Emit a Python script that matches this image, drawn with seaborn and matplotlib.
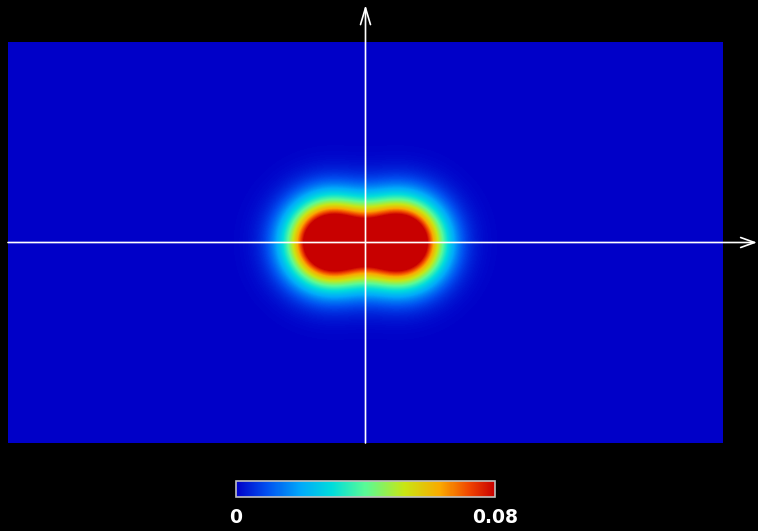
import numpy as np
import pandas as pd
import matplotlib
matplotlib.use("Agg")
import matplotlib.pyplot as plt
from matplotlib.colors import LinearSegmentedColormap
import seaborn as sns

# Domain of the field (physical units)
x_range = [-3.575, 3.575]
y_range = [-2.005, 2.005]
n_cols, n_rows = 715, 401

# Two identical Gaussian sources placed symmetrically on the x axis
source_x = [-0.35, 0.35]
source_y = [0.0, 0.0]
source_amp = [0.127, 0.127]
source_width = [0.28, 0.28]

# Colour scale limits and labels
value_min, value_max = 0.0, 0.08
tick_values = [0.0, 0.08]
tick_labels = ["0", "0.08"]

# Colour map: deep blue -> cyan -> green -> yellow -> orange -> deep red
cmap_stops = [0.0, 0.12, 0.25, 0.37, 0.50, 0.65, 0.79, 0.90, 1.0]
cmap_colors = ["#0000c8", "#0050f0", "#00aafa", "#00dcdc", "#5afa96",
               "#c8e614", "#faaa00", "#f04600", "#c80000"]
field_cmap = LinearSegmentedColormap.from_list(
    "field", list(zip(cmap_stops, cmap_colors)))

xs = np.linspace(x_range[0], x_range[1], n_cols)
ys = np.linspace(y_range[1], y_range[0], n_rows)
X, Y = np.meshgrid(xs, ys)
field = np.zeros_like(X)
for cx, cy, a, w in zip(source_x, source_y, source_amp, source_width):
    field += a * np.exp(-((X - cx) ** 2 + (Y - cy) ** 2) / (2 * w ** 2))
field = np.clip(field, value_min, value_max)
df = pd.DataFrame(field, index=np.round(ys, 4), columns=np.round(xs, 4))

W, H = 758, 531
fig = plt.figure(figsize=(W / 100, H / 100), dpi=100, facecolor="black")

ax = fig.add_axes([8 / W, (H - 443) / H, 715 / W, 401 / H])
ax.set_facecolor("black")
sns.heatmap(df, ax=ax, cmap=field_cmap, vmin=value_min, vmax=value_max,
            cbar=False, xticklabels=False, yticklabels=False,
            rasterized=True)
ax.set_xlabel("")
ax.set_ylabel("")
for s in ax.spines.values():
    s.set_visible(False)

# Coordinate axes through the origin, with open arrowheads
ax.annotate("", xy=(0.5, 1 + 37 / 401), xytext=(0.5, 0.0),
            xycoords="axes fraction", textcoords="axes fraction",
            arrowprops=dict(arrowstyle="->,head_length=1.2,head_width=0.36",
                            color="white", lw=1.2, shrinkA=0, shrinkB=0),
            annotation_clip=False)
ax.annotate("", xy=(1 + 34 / 715, 0.5), xytext=(0.0, 0.5),
            xycoords="axes fraction", textcoords="axes fraction",
            arrowprops=dict(arrowstyle="->,head_length=1.0,head_width=0.36",
                            color="white", lw=1.2, shrinkA=0, shrinkB=0),
            annotation_clip=False)

# Horizontal colour bar below the field
cax = fig.add_axes([236 / W, (H - 497) / H, 259 / W, 16 / H])
cb = fig.colorbar(ax.collections[0], cax=cax, orientation="horizontal")
cb.set_ticks(tick_values)
cb.set_ticklabels(tick_labels)
cb.outline.set_edgecolor("#c0c0c0")
cb.outline.set_linewidth(1.2)
cax.tick_params(length=0, pad=8, labelcolor="white", labelsize=13.5)
for t in cax.get_xticklabels():
    t.set_fontweight("bold")
    t.set_fontfamily("DejaVu Sans")

fig.savefig("out.png", dpi=100, facecolor="black")
